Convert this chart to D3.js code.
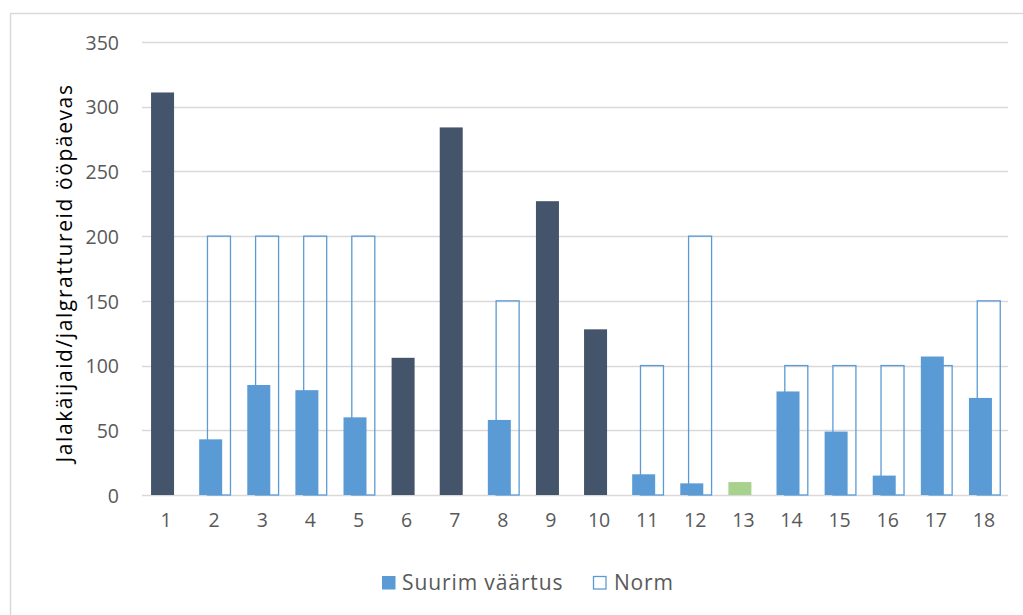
<!DOCTYPE html>
<html>
<head>
<meta charset="utf-8">
<script src="https://cdn.jsdelivr.net/npm/d3@7"></script>
<style>
  html, body { margin: 0; padding: 0; background: #fff; }
  svg { display: block; font-family: "Open Sans", sans-serif; }
</style>
</head>
<body>
<svg id="chart" width="1023" height="615"></svg>
<script>
// Measuring points 1–18
const categories = ["1","2","3","4","5","6","7","8","9","10","11","12","13","14","15","16","17","18"];
// Highest daily count of pedestrians/cyclists per point
const maxValues = [311, 43, 85, 81, 60, 106, 284, 58, 227, 128, 16, 9, 10, 80, 49, 15, 107, 75];
// Norm per point (null where no norm is set)
const normValues = [null, 200, 200, 200, 200, null, null, 150, null, null, 100, 200, null, 100, 100, 100, 100, 150];
// Bar colour group per point
const groups = ["over","ok","ok","ok","ok","over","over","ok","over","over","ok","ok","low","ok","ok","ok","ok","ok"];
const yTicks = [0, 50, 100, 150, 200, 250, 300, 350];
const seriesNames = ["Suurim väärtus", "Norm"];

const colors = { ok: "#5b9bd5", over: "#44546a", low: "#a9d18e" };
const FONT = "'Open Sans', sans-serif";

const svg = d3.select("#chart");

// Outer chart frame (right and bottom edges fall outside the view)
svg.append("rect")
  .attr("x", 10.5).attr("y", 13.5)
  .attr("width", 1040).attr("height", 620)
  .attr("fill", "none").attr("stroke", "#d9d9d9").attr("stroke-width", 1.5);

const x = d3.scaleBand().domain(categories).range([142, 1008]).padding(0);
const y = d3.scaleLinear().domain([0, 350]).range([495, 42]);

// Horizontal gridlines
svg.append("g").selectAll("line").data(yTicks).join("line")
  .attr("x1", 142).attr("x2", 1008)
  .attr("y1", d => Math.round(y(d)) + 0.5).attr("y2", d => Math.round(y(d)) + 0.5)
  .attr("stroke", "#d9d9d9").attr("stroke-width", 1.3);

// Y axis labels
const yAxis = d3.axisLeft(y).tickValues(yTicks).tickSize(0).tickPadding(0);
const gy = svg.append("g").attr("transform", "translate(119,1)").call(yAxis);
gy.select(".domain").remove();
gy.selectAll("text").attr("fill", "#595959").style("font-size", "19.5px")
  .style("font-family", FONT);

// X axis labels
const xAxis = d3.axisBottom(x).tickSize(0).tickPadding(0);
const gx = svg.append("g").attr("transform", "translate(0,513)").call(xAxis);
gx.select(".domain").remove();
gx.selectAll("text").attr("fill", "#595959").style("font-size", "19.5px")
  .style("font-family", FONT);

const barW = 23;
const offMax = -3.5, offNorm = 4.8;

// Norm bars (outline only), drawn behind
const normData = categories.map((c, i) => ({ c, v: normValues[i] })).filter(d => d.v != null);
svg.append("g").selectAll("rect").data(normData).join("rect")
  .attr("x", d => x(d.c) + x.bandwidth() / 2 + offNorm - barW / 2)
  .attr("y", d => y(d.v))
  .attr("width", barW)
  .attr("height", d => y(0) - y(d.v))
  .attr("fill", "none")
  .attr("stroke", "#5b9bd5").attr("stroke-width", 1.3);

// Maximum value bars
const maxData = categories.map((c, i) => ({ c, v: maxValues[i], g: groups[i] }));
svg.append("g").selectAll("rect").data(maxData).join("rect")
  .attr("x", d => x(d.c) + x.bandwidth() / 2 + offMax - barW / 2)
  .attr("y", d => y(d.v))
  .attr("width", barW)
  .attr("height", d => y(0) - y(d.v))
  .attr("fill", d => colors[d.g]);

// Y axis title
svg.append("text")
  .attr("transform", "translate(72,273) rotate(-90)")
  .attr("text-anchor", "middle")
  .attr("fill", "#000")
  .style("font-size", "21px")
  .style("letter-spacing", "1.6px")
  .style("font-family", FONT)
  .text("Jalakäijaid/jalgrattureid ööpäevas");

// Legend
const legend = svg.append("g");
legend.append("rect").attr("x", 382).attr("y", 576).attr("width", 13.5).attr("height", 13.5)
  .attr("fill", colors.ok);
legend.append("text").attr("x", 402).attr("y", 590)
  .attr("fill", "#595959").style("font-size", "21px").style("letter-spacing", "0.9px")
  .style("font-family", FONT).text(seriesNames[0]);
legend.append("rect").attr("x", 593.5).attr("y", 576.5).attr("width", 12.5).attr("height", 12.5)
  .attr("fill", "#fff").attr("stroke", "#5b9bd5").attr("stroke-width", 1.3);
legend.append("text").attr("x", 614).attr("y", 590)
  .attr("fill", "#595959").style("font-size", "21px").style("letter-spacing", "0.8px")
  .style("font-family", FONT).text(seriesNames[1]);
</script>
</body>
</html>
